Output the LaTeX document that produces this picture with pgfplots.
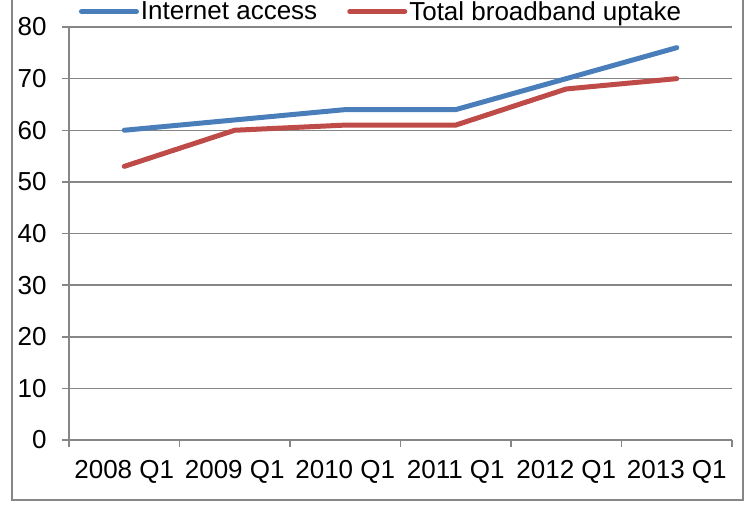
\documentclass[border=0pt]{standalone}
\usepackage{fontspec}
\setmainfont{Liberation Sans}
\usepackage{pgfplots}
\pgfplotsset{compat=1.18}
\definecolor{xlblue}{HTML}{4A7EBB}
\definecolor{xlred}{HTML}{BE4B48}
\definecolor{axgray}{HTML}{868686}
\begin{document}
\begin{tikzpicture}[x=1pt,y=1pt]
\useasboundingbox (0,0) rectangle (746,514);
\draw[color=axgray, line width=1.5pt] (12,14) rectangle (743,530);
\begin{axis}[
  at={(69pt,74pt)}, anchor=south west,
  width=663pt, height=413pt, scale only axis,
  xmin=-0.5, xmax=5.5, ymin=0, ymax=80,
  axis x line*=bottom, axis y line*=left,
  axis line style={color=axgray, line width=1.5pt, -},
  xtick={0,...,5},
  xticklabels={2008 Q1,2009 Q1,2010 Q1,2011 Q1,2012 Q1,2013 Q1},
  minor xtick={-0.5,0.5,...,5.5},
  major x tick style={draw=none},
  minor x tick style={color=axgray, line width=1.5pt},
  ytick={0,10,...,80},
  ytick style={color=axgray, line width=1.5pt},
  major tick length=7pt, minor tick length=7pt,
  tick align=outside,
  ymajorgrids,
  grid style={color=axgray, line width=1.5pt},
  /pgf/number format/assume math mode=true,
  tick label style={font=\fontsize{26}{30}\selectfont, text=black},
  xticklabel style={yshift=-10pt},
  yticklabel style={xshift=-12pt},
  legend columns=2,
  legend style={at={(0.5,1)}, anchor=center, xshift=-19.5pt, yshift=15.5pt,
    draw=none, fill=none, font=\fontsize{26}{30}\selectfont,
    /tikz/every even column/.append style={column sep=28pt}},
  legend image code/.code={\draw[#1] (0pt,0pt) -- (55pt,0pt);},
  every axis plot/.append style={line width=5pt, line join=round, line cap=round},
]
\addplot[color=xlblue] coordinates {(0,60) (1,62) (2,64) (3,64) (4,70) (5,76)};
\addlegendentry{Internet access}
\addplot[color=xlred] coordinates {(0,53) (1,60) (2,61) (3,61) (4,68) (5,70)};
\addlegendentry{Total broadband uptake}
\end{axis}
\end{tikzpicture}
\end{document}
